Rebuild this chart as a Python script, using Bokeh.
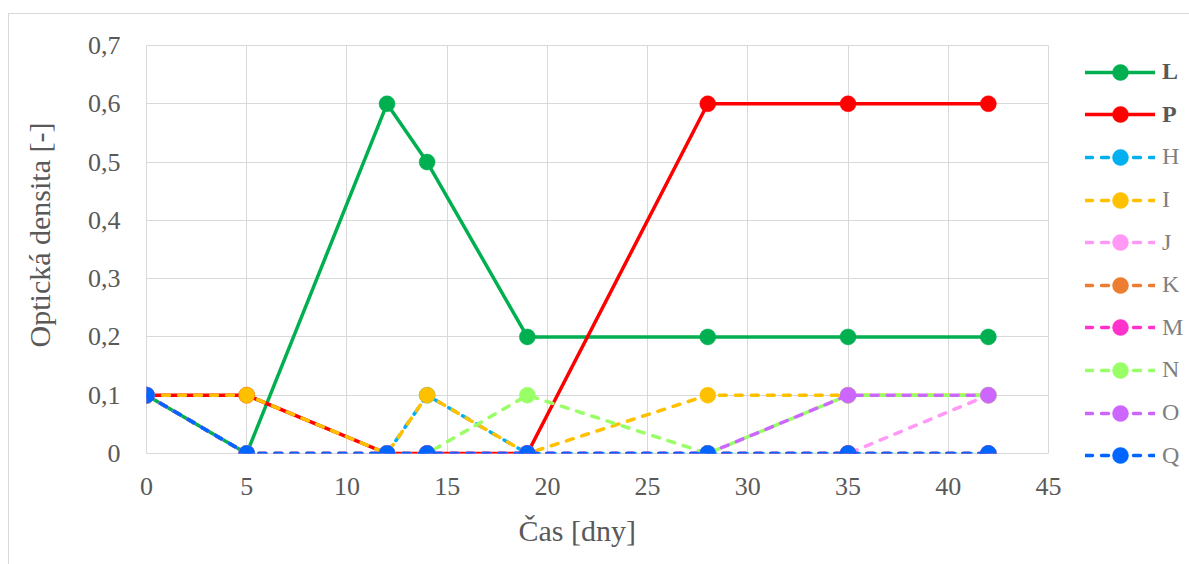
import numpy as np
from bokeh.plotting import figure
from bokeh.layouts import row
from bokeh.models import Range1d, FixedTicker, Legend, LegendItem, Title, Label
from bokeh.embed import file_html
from bokeh.resources import INLINE

# ---------------- data ----------------
days = [0, 5, 12, 14, 19, 28, 35, 42]
series_names = ["L", "P", "H", "I", "J", "K", "M", "N", "O", "Q"]
L = [0.1, 0.0, 0.6, 0.5, 0.2, 0.2, 0.2, 0.2]
P = [0.1, 0.1, 0.0, 0.0, 0.0, 0.6, 0.6, 0.6]
H = [0.1, 0.0, 0.0, 0.1, 0.0, 0.0, 0.0, 0.0]
I = [0.1, 0.1, 0.0, 0.1, 0.0, 0.1, 0.1, 0.1]
J = [0.1, 0.0, 0.0, 0.0, 0.0, 0.0, 0.0, 0.1]
K = [0.1, 0.0, 0.0, 0.0, 0.0, 0.0, 0.0, 0.0]
M = [0.1, 0.0, 0.0, 0.0, 0.0, 0.0, 0.0, 0.0]
N = [0.1, 0.0, 0.0, 0.0, 0.1, 0.0, 0.1, 0.1]
O = [0.1, 0.0, 0.0, 0.0, 0.0, 0.0, 0.1, 0.1]
Q = [0.1, 0.0, 0.0, 0.0, 0.0, 0.0, 0.0, 0.0]
values = [L, P, H, I, J, K, M, N, O, Q]

x_ticks = [0, 5, 10, 15, 20, 25, 30, 35, 40, 45]
y_ticks = [0.0, 0.1, 0.2, 0.3, 0.4, 0.5, 0.6, 0.7]
y_tick_labels = ["0", "0,1", "0,2", "0,3", "0,4", "0,5", "0,6", "0,7"]
x_title = "Čas [dny]"
y_title = "Optická densita [-]"

# ---------------- styles ----------------
colors = ["#00b050", "#ff0000", "#00b0f0", "#ffc000", "#ff99f5",
          "#ed7d31", "#ff33cc", "#99ff66", "#cc66ff", "#0066ff"]
solid = {"L", "P"}
FONT = "Liberation Serif"
GRID = "#d9d9d9"
TXT = "#595959"
LW = 3.5
MS = 16

# absolute page geometry
OX, OY = 9, 14            # content origin (inside the 1px border at 8,13)
FL, FR, FT, FB = 146, 1048, 45, 453
YT_RIGHT = 69             # right edge of the y-title strip
LEG_LEFT = 1075           # left edge of the legend strip
HEIGHT = 564 - OY
YT_W = YT_RIGHT - OX
MAIN_W = LEG_LEFT - YT_RIGHT
LEG_W = 1189 - LEG_LEFT

# ---------------- y-title strip ----------------
py = figure(width=YT_W, height=HEIGHT, output_backend="svg", toolbar_location=None,
            x_range=Range1d(0, YT_W), y_range=Range1d(0, HEIGHT),
            x_axis_type=None, y_axis_type=None, min_border=0)
py.frame_align = False
py.outline_line_color = None
py.background_fill_color = "white"
py.border_fill_color = "white"
py.add_layout(Label(x=39 - OX, y=HEIGHT - (234.5 - OY), text=y_title, angle=np.pi / 2,
                    text_align="center", text_baseline="alphabetic",
                    text_font=FONT, text_font_size="30px", text_color=TXT))

# ---------------- main plot ----------------
p = figure(width=MAIN_W, height=HEIGHT, output_backend="svg", toolbar_location=None,
           x_range=Range1d(0, 45), y_range=Range1d(0, 0.7),
           min_border_left=FL - YT_RIGHT, min_border_right=LEG_LEFT - FR,
           min_border_top=FT - OY, min_border_bottom=HEIGHT - (FB - OY))
p.background_fill_color = "white"
p.border_fill_color = "white"
p.outline_line_color = GRID
p.outline_line_width = 1

p.xaxis.ticker = FixedTicker(ticks=x_ticks)
p.yaxis.ticker = FixedTicker(ticks=y_ticks)
p.yaxis.major_label_overrides = {v: s for v, s in zip(y_ticks, y_tick_labels)}
for ax in (p.xaxis, p.yaxis):
    ax.axis_line_color = None
    ax.major_tick_line_color = None
    ax.minor_tick_line_color = None
    ax.major_tick_in = 0
    ax.major_tick_out = 0
    ax.major_label_text_font = FONT
    ax.major_label_text_font_size = "26px"
    ax.major_label_text_color = TXT
p.xaxis.major_label_standoff = 24
p.yaxis.major_label_standoff = 26

p.xgrid.ticker = FixedTicker(ticks=x_ticks)
p.ygrid.ticker = FixedTicker(ticks=y_ticks)
p.grid.grid_line_color = GRID
p.grid.grid_line_width = 1

p.add_layout(Title(text=x_title, align="left", offset=518 - FL, standoff=28,
                   text_font=FONT, text_font_size="30px", text_font_style="normal",
                   text_color=TXT), "below")

def style(name):
    return "solid" if name in solid else "7 9"

for name, vals, col in zip(series_names, values, colors):
    p.line(days, vals, line_color=col, line_width=LW, line_dash=style(name),
           line_cap="round", line_join="round")
    p.scatter(days, vals, size=MS, fill_color=col, line_color=col, line_width=0.5)

# ---------------- legend strip ----------------
# the strip's view is placed away from the data, so only the legend shows
pl = figure(width=LEG_W, height=HEIGHT, output_backend="svg", toolbar_location=None,
            x_range=Range1d(-200, -199), y_range=Range1d(-200, -199),
            x_axis_type=None, y_axis_type=None, min_border=0)
pl.frame_align = False
pl.outline_line_color = None
pl.background_fill_color = "white"
pl.border_fill_color = "white"

leg_x = 1085
leg_top_center = 71.7
leg_step = 42.6
gh = 40
for i, (name, vals, col) in enumerate(zip(series_names, values, colors)):
    lr = pl.line(days, vals, line_color=col, line_width=LW, line_dash=style(name),
                 line_cap="round", line_join="round")
    sr = pl.scatter(days, vals, fill_color=col, line_color=col, line_width=0.5)
    cy = leg_top_center + i * leg_step
    bottom = cy + gh / 2 - OY
    lg = Legend(items=[LegendItem(label=name, renderers=[lr, sr])],
                location=(leg_x - LEG_LEFT, HEIGHT - bottom),
                glyph_width=70, glyph_height=gh, label_standoff=7,
                padding=0, margin=0, spacing=0,
                border_line_color=None, background_fill_alpha=0,
                label_text_font=FONT, label_text_font_size="24px",
                label_text_baseline="middle",
                label_text_color=TXT if name in solid else "#7f7f7f",
                label_text_font_style="bold" if name in solid else "normal")
    pl.add_layout(lg)

layout = row(py, p, pl, spacing=0, margin=(OY - 1, 0, 0, OX - 1),
             styles={"border-left": "1px solid #d9d9d9", "border-top": "1px solid #d9d9d9"})

with open("out.html", "w") as f:
    f.write(file_html(layout, INLINE))
